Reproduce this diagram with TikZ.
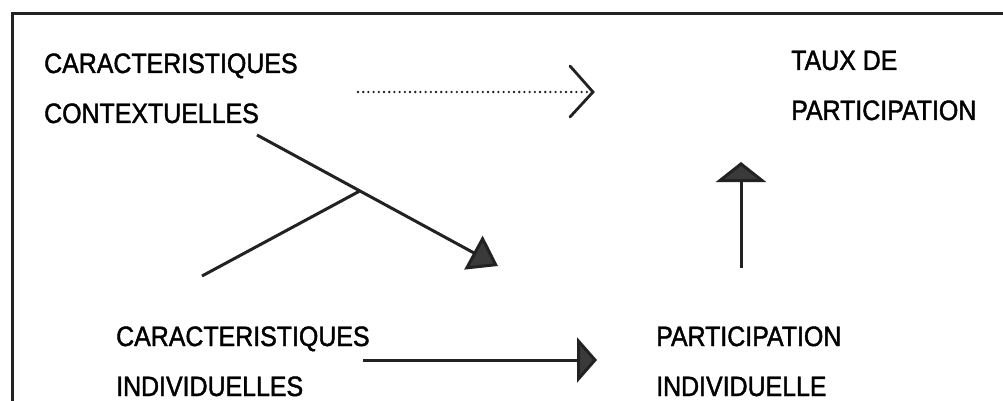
\documentclass[tikz,border=0pt]{standalone}
\usepackage{fontspec}
\setmainfont{Liberation Sans}
\newfontfamily\labfont[FakeStretch=0.89,FakeBold=1.5]{Liberation Sans}
\usetikzlibrary{arrows.meta,calc}
\definecolor{ink}{HTML}{222222}
\definecolor{tipfill}{HTML}{3a3a3a}
\tikzset{
  lab/.style={anchor=base west,inner sep=0pt,align=left,font=\labfont\fontsize{28}{50}\selectfont,text=black},
  conn/.style={draw=ink,line width=3pt},
  dotline/.style={draw=ink,line width=2.6pt,line cap=round,dash pattern=on 0pt off 5.2pt},
}
\begin{document}
\begin{tikzpicture}[x=1pt,y=-1pt]
\useasboundingbox (0,0) rectangle (1003,401);
\fill[white] (0,0) rectangle (1003,401);
% frame (cut off at right and bottom)
\draw[draw=ink,line width=3pt] (12,410) -- (12,14) -- (1010,14);
% labels (anchor at the baseline of the last line)
\node[lab] (ctx) at (44,123) {CARACTERISTIQUES\\CONTEXTUELLES};
\node[lab] (taux) at (791,120) {TAUX DE\\PARTICIPATION};
\node[lab] (ind) at (116,396) {CARACTERISTIQUES\\INDIVIDUELLES};
\node[lab] (part) at (656,396) {PARTICIPATION\\INDIVIDUELLE};
% connector ends
\coordinate (dotS) at (358,92);
\coordinate (dotE) at (593,92);
\coordinate (diagS) at (257,135);
\coordinate (diagE) at (498,266);
\coordinate (joint) at ($(diagS)!0.427!(diagE)$);
\coordinate (indS) at (202,276);
\coordinate (upS) at (741,268);
\coordinate (upE) at (741,162);
\coordinate (horS) at (363,360);
\coordinate (horE) at (597,360);
% dotted arrow
\draw[dotline] (dotS) -- ($(dotE)+(-4,0)$);
\draw[draw=ink,line width=2.8pt,line cap=round,line join=miter] ($(dotE)+(-23,-26)$) -- (dotE) -- ($(dotE)+(-23,25)$);
% diagonal arrow and joining line
\draw[conn,-{Triangle[length=28pt,width=38pt,fill=tipfill]}] (diagS) -- (diagE);
\draw[conn] (indS) -- (joint);
% vertical arrow
\draw[conn,-{Triangle[length=20pt,width=50pt,fill=tipfill]}] (upS) -- (upE);
% horizontal arrow
\draw[conn,-{Triangle[length=20pt,width=45pt,fill=tipfill]}] (horS) -- (horE);
\end{tikzpicture}
\end{document}
